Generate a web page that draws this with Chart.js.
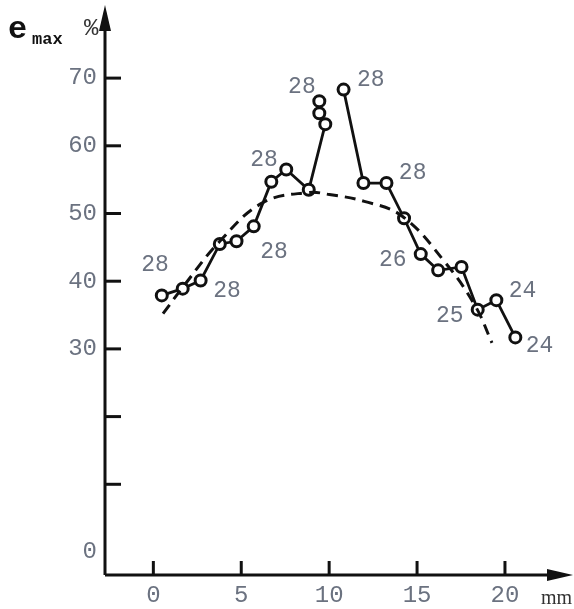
<!DOCTYPE html>
<html>
<head>
<meta charset="utf-8">
<script src="https://cdn.jsdelivr.net/npm/chart.js@4/dist/chart.umd.min.js"></script>
<style>
  html, body { margin: 0; padding: 0; background: #fff; }
  #c { display: block; }
</style>
</head>
<body>
<canvas id="c" width="574" height="609"></canvas>
<script>
// measured series (x in mm, y in %)
const leftX = [0.48, 1.67, 2.69, 3.78, 4.73, 5.71, 6.71, 7.56, 8.84, 9.78];
const leftY = [37.9, 38.9, 40.1, 45.5, 45.9, 48.1, 54.7, 56.5, 53.5, 63.2];
// two extra circles stacked above the peak
const stackX = [9.44, 9.44];
const stackY = [64.8, 66.6];
const rightX = [10.82, 11.95, 13.26, 14.26, 15.21, 16.20, 17.53, 18.45, 19.51, 20.59];
const rightY = [68.3, 54.5, 54.5, 49.3, 44.0, 41.6, 42.1, 35.8, 37.2, 31.7];
// dashed trend curve
const trendX = [0.55, 1.70, 3.78, 6.23, 8.82, 10.01, 12.0, 14.16, 16.62, 18.32, 19.26];
const trendY = [35.2, 39.2, 45.9, 51.6, 53.1, 52.8, 51.8, 49.6, 42.7, 36.3, 30.9];
// annotation numbers and where they sit (data units)
const noteText = ["28", "28", "28", "28", "28", "28", "28", "26", "25", "24", "24"];
const noteX = [0.1, 4.19, 6.29, 6.86, 8.45, 12.37, 14.75, 13.62, 16.86, 21.0, 21.97];
const noteY = [42.4, 38.5, 57.9, 44.4, 68.7, 69.7, 56.0, 43.2, 34.8, 38.5, 30.4];
// ticks
const xTicks = [0, 5, 10, 15, 20];
const yTicks = [0, 10, 20, 30, 40, 50, 60, 70];
const yLabeled = [0, 30, 40, 50, 60, 70];

const pts = (xs, ys) => xs.map((x, i) => ({ x: x, y: ys[i] }));
const labelGray = "#6b7280";

const axesPlugin = {
  id: "axes",
  afterDraw(chart) {
    const ctx = chart.ctx;
    const xs = chart.scales.x, ys = chart.scales.y;
    const a = chart.chartArea;
    ctx.save();
    ctx.strokeStyle = "#111";
    ctx.fillStyle = "#111";
    ctx.lineWidth = 3;
    // axis lines
    ctx.beginPath();
    ctx.moveTo(a.left, a.bottom);
    ctx.lineTo(a.left, a.top + 18);
    ctx.moveTo(a.left, a.bottom);
    ctx.lineTo(a.right - 18, a.bottom);
    ctx.stroke();
    // arrowheads
    ctx.beginPath();
    ctx.moveTo(a.left, a.top);
    ctx.lineTo(a.left - 6, a.top + 26);
    ctx.lineTo(a.left + 6, a.top + 26);
    ctx.closePath();
    ctx.fill();
    ctx.beginPath();
    ctx.moveTo(a.right, a.bottom);
    ctx.lineTo(a.right - 26, a.bottom - 6);
    ctx.lineTo(a.right - 26, a.bottom + 6);
    ctx.closePath();
    ctx.fill();
    // inward tick marks
    xTicks.forEach((v) => {
      const px = xs.getPixelForValue(v);
      ctx.beginPath();
      ctx.moveTo(px, a.bottom);
      ctx.lineTo(px, a.bottom - 14);
      ctx.stroke();
    });
    yTicks.filter((v) => v > 0).forEach((v) => {
      const py = ys.getPixelForValue(v);
      ctx.beginPath();
      ctx.moveTo(a.left, py);
      ctx.lineTo(a.left + 16, py);
      ctx.stroke();
    });
    // point annotations
    ctx.fillStyle = labelGray;
    ctx.font = "23px 'Liberation Mono'";
    ctx.textAlign = "center";
    ctx.textBaseline = "middle";
    noteText.forEach((t, i) => {
      ctx.fillText(t, xs.getPixelForValue(noteX[i]), ys.getPixelForValue(noteY[i]));
    });
    // axis titles
    ctx.fillStyle = "#111";
    ctx.textAlign = "left";
    ctx.textBaseline = "alphabetic";
    ctx.font = "bold 32px 'Liberation Mono'";
    ctx.fillText("e", 8, 38);
    ctx.font = "bold 17px 'Liberation Mono'";
    ctx.fillText("max", 32, 44);
    ctx.fillStyle = "#333";
    ctx.font = "24px 'Liberation Mono'";
    ctx.fillText("%", 84, 35);
    ctx.font = "20px 'Liberation Serif'";
    ctx.fillText("mm", 541, 604);
    ctx.restore();
  }
};

new Chart(document.getElementById("c"), {
  type: "scatter",
  data: {
    datasets: [
      {
        data: pts(trendX, trendY),
        showLine: true,
        borderColor: "#111",
        borderWidth: 3,
        borderDash: [11, 7],
        pointRadius: 0,
        tension: 0.4
      },
      {
        data: pts(leftX, leftY),
        showLine: true,
        borderColor: "#111",
        borderWidth: 2.8,
        pointRadius: 5.5,
        pointBorderWidth: 3,
        pointBackgroundColor: "#fff",
        pointBorderColor: "#111"
      },
      {
        data: pts(stackX, stackY),
        showLine: false,
        pointRadius: 5.5,
        pointBorderWidth: 3,
        pointBackgroundColor: "#fff",
        pointBorderColor: "#111"
      },
      {
        data: pts(rightX, rightY),
        showLine: true,
        borderColor: "#111",
        borderWidth: 2.8,
        pointRadius: 5.5,
        pointBorderWidth: 3,
        pointBackgroundColor: "#fff",
        pointBorderColor: "#111"
      }
    ]
  },
  options: {
    responsive: false,
    animation: false,
    devicePixelRatio: 1,
    layout: { autoPadding: false, padding: { top: 5, right: 1, left: 0, bottom: 0 } },
    plugins: { legend: { display: false }, tooltip: { enabled: false } },
    scales: {
      x: {
        type: "linear",
        min: -2.75,
        max: 23.87,
        afterFit: (s) => { s.height = 34; s.paddingLeft = 0; s.paddingRight = 0; },
        afterBuildTicks: (s) => { s.ticks = xTicks.map((v) => ({ value: v })); },
        grid: { display: false, drawTicks: false },
        border: { display: false },
        ticks: {
          padding: 6,
          color: labelGray,
          font: { family: "'Liberation Mono'", size: 24 },
          maxRotation: 0
        }
      },
      y: {
        type: "linear",
        min: -3.4,
        max: 80.8,
        afterFit: (s) => { s.width = 105; s.paddingTop = 0; s.paddingBottom = 0; },
        afterBuildTicks: (s) => { s.ticks = yTicks.map((v) => ({ value: v })); },
        grid: { display: false, drawTicks: false },
        border: { display: false },
        ticks: {
          padding: 8,
          color: labelGray,
          font: { family: "'Liberation Mono'", size: 24 },
          callback: (v) => (yLabeled.includes(v) ? String(v) : "")
        }
      }
    }
  },
  plugins: [axesPlugin]
});
</script>
</body>
</html>
